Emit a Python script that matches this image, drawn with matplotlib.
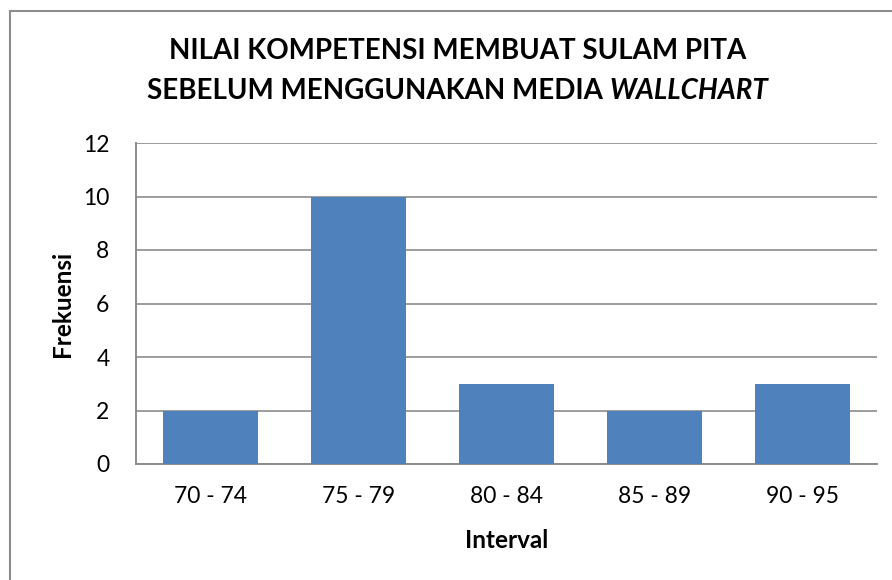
import numpy as np
import matplotlib.pyplot as plt
from matplotlib.lines import Line2D

plt.rcParams['font.family'] = ['Lato', 'DejaVu Sans']

# data
intervals = ['70 - 74', '75 - 79', '80 - 84', '85 - 89', '90 - 95']
frekuensi = [2, 10, 3, 2, 3]
yticks = [0, 2, 4, 6, 8, 10, 12]

W, H = 892, 580
fig = plt.figure(figsize=(W / 100, H / 100), dpi=100)
ax = fig.add_axes([136 / W, 1 - 464 / H, (877 - 136) / W, (464 - 143) / H])

x = np.arange(len(intervals))
ax.bar(x, frekuensi, width=0.64, color='#4F81BD', zorder=3)
ax.set_xlim(-0.5, len(intervals) - 0.5)
ax.set_ylim(0, 12)
ax.set_yticks(yticks)
ax.set_xticks(x)
ax.set_xticklabels(intervals)
ax.tick_params(length=0, labelsize=16.5, colors='black')
ax.tick_params(axis='y', pad=19)
ax.tick_params(axis='x', pad=16)
ax.grid(axis='y', color='#8c8c8c', linewidth=1.2, zorder=0)
for s in ['top', 'right']:
    ax.spines[s].set_visible(False)
for s in ['left', 'bottom']:
    ax.spines[s].set_color('#8c8c8c')
    ax.spines[s].set_linewidth(1.4)

ax.set_ylabel('Frekuensi', fontsize=17.5, fontweight='bold')
ax.set_xlabel('Interval', fontsize=17.5, fontweight='bold', labelpad=16)

# title, second line has italic part
fig.text(458 / W, 1 - 51 / H, 'NILAI KOMPETENSI MEMBUAT SULAM PITA',
         ha='center', va='center', fontsize=20, fontweight='bold')
fig.canvas.draw()
r = fig.canvas.get_renderer()
p1 = fig.text(0, 1 - 91 / H, 'SEBELUM MENGGUNAKAN MEDIA ', ha='left', va='center',
              fontsize=20, fontweight='bold')
p2 = fig.text(0, 1 - 91 / H, 'WALLCHART', ha='left', va='center',
              fontsize=20, fontweight='bold', fontstyle='italic')
w1 = p1.get_window_extent(r).width
w2 = p2.get_window_extent(r).width
x0 = 458 - (w1 + w2) / 2
p1.set_x(x0 / W)
p2.set_x((x0 + w1) / W)

# outer chart frame
fig.add_artist(Line2D([10 / W, 10 / W], [0, 1 - 11 / H], color='#8c8c8c', lw=1.5))
fig.add_artist(Line2D([10 / W, 1], [1 - 11 / H, 1 - 11 / H], color='#8c8c8c', lw=1.5))

# y label anchored (right edge of rotated text) at fixed x like the reference
ax.yaxis.set_label_coords((74 - 136) / (877 - 136), 0.5)

fig.savefig('out.png', dpi=100)
